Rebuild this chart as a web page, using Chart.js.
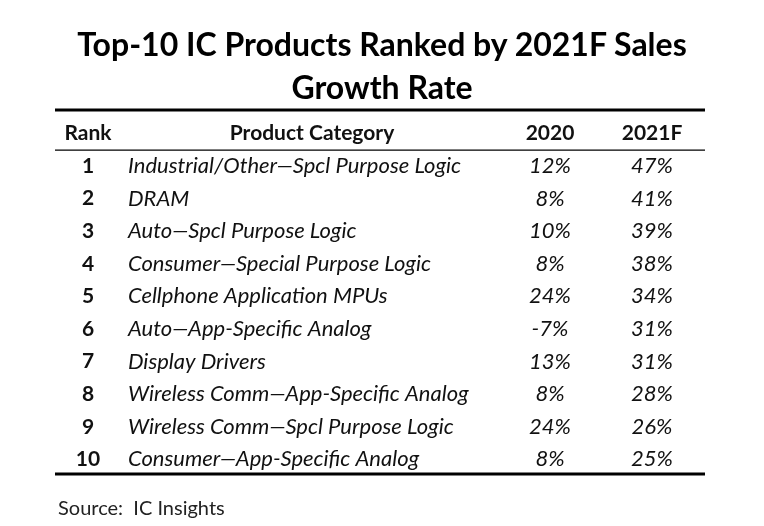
<!DOCTYPE html>
<html><head><meta charset="utf-8">
<script src="https://cdn.jsdelivr.net/npm/chart.js@4"></script>
<style>
html,body{margin:0;padding:0;background:#fff;}
#wrap{position:relative;width:764px;height:526px;}
#title{position:absolute;left:0;top:22px;width:764px;text-align:center;font:bold 32px Lato,"Open Sans",sans-serif;line-height:43px;color:#000;}
#src{position:absolute;left:58px;top:495px;font:20px Lato,"Open Sans",sans-serif;color:#222;}
canvas{position:absolute;left:0;top:0;}
</style></head><body>
<div id="wrap">
<canvas id="c" width="764" height="526"></canvas>
<div id="title">Top-10 IC Products Ranked by 2021F Sales<br>Growth Rate</div>
<div id="src">Source:&nbsp; IC Insights</div>
</div>
<script>
const headers = ['Rank','Product Category','2020','2021F'];
const ranks = [1,2,3,4,5,6,7,8,9,10];
const categories = ['Industrial/Other\u2014Spcl Purpose Logic','DRAM','Auto\u2014Spcl Purpose Logic','Consumer\u2014Special Purpose Logic','Cellphone Application MPUs','Auto\u2014App-Specific Analog','Display Drivers','Wireless Comm\u2014App-Specific Analog','Wireless Comm\u2014Spcl Purpose Logic','Consumer\u2014App-Specific Analog'];
const growth2020 = [12,8,10,8,24,-7,13,8,24,8];
const growth2021 = [47,41,39,38,34,31,31,28,26,25];

const colX = [33, 73, 495, 597];
const headerX = [33, 257, 495, 597];

function mk(label, xs, texts, align, font){
  return {label, data: texts.map((t,i)=>({x:xs, y:ranks[i]})), texts, align, font, pointRadius:0, showLine:false};
}
const rowFont = 'italic 22px Lato, "Open Sans", sans-serif';
const boldFont = 'bold 21px Lato, "Open Sans", sans-serif';
const datasets = [
  {label:'header', data: headers.map((h,i)=>({x:headerX[i], y:0})), texts: headers, align:'center', font:boldFont, pointRadius:0},
  mk('rank', colX[0], ranks.map(String), 'center', boldFont),
  mk('cat', colX[1], categories, 'left', rowFont),
  mk('2020', colX[2], growth2020.map(v=>v+'%'), 'center', rowFont),
  mk('2021', colX[3], growth2021.map(v=>v+'%'), 'center', rowFont)
];

const tablePlugin = {
  id:'table',
  afterDatasetsDraw(chart){
    const ctx = chart.ctx, ys = chart.scales.y, a = chart.chartArea;
    ctx.save();
    ctx.strokeStyle = '#000';
    const hl = (v,w)=>{ctx.lineWidth=w; const y=ys.getPixelForValue(v); ctx.beginPath(); ctx.moveTo(a.left,y); ctx.lineTo(a.right,y); ctx.stroke();};
    hl(ys.min,3); hl(0.51,1.2); hl(ys.max,3);
    ctx.fillStyle = '#111';
    ctx.textBaseline = 'middle';
    chart.data.datasets.forEach((ds,di)=>{
      const meta = chart.getDatasetMeta(di);
      ctx.font = ds.font; ctx.textAlign = ds.align;
      meta.data.forEach((pt,i)=>ctx.fillText(ds.texts[i], pt.x, pt.y));
    });
    ctx.restore();
  }
};

new Chart(document.getElementById('c'), {
  type:'scatter',
  data:{datasets},
  options:{
    responsive:false, animation:false,
    layout:{padding:{left:55,right:59,top:110,bottom:52}},
    plugins:{legend:{display:false},tooltip:{enabled:false}},
    scales:{
      x:{type:'linear',min:0,max:650,display:false},
      y:{type:'linear',min:-0.72,max:10.45,reverse:true,display:false}
    }
  },
  plugins:[tablePlugin]
});
</script>
</body></html>
